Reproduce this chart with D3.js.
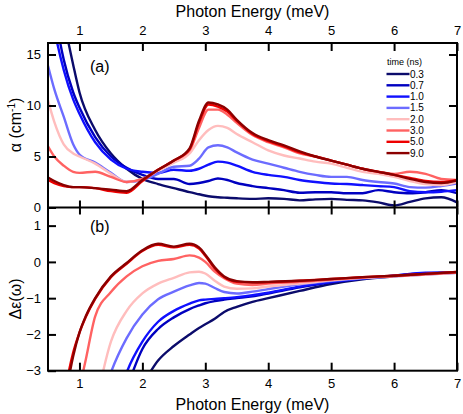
<!DOCTYPE html>
<html>
<head>
<meta charset="utf-8">
<script src="https://d3js.org/d3.v7.min.js"></script>
<style>
  body { margin: 0; background: #fff; }
  svg { font-family: "Liberation Sans", Arial, sans-serif; }
</style>
</head>
<body>
<svg width="463" height="414"></svg>
<script>
// delay times (ns) and line colours
var times = ["0.3", "0.7", "1.0", "1.5", "2.0", "3.0", "5.0", "9.0"];
var colors = ["#0b0b6b", "#0000c0", "#1010ff", "#6c6cff", "#ffbdbd", "#ff6262", "#ee0000", "#8b0000"];

// panel (a): absorption alpha (cm^-1) vs photon energy (meV)
var energyA = [0.5, 0.6, 0.75, 0.9, 1.0, 1.25, 1.5, 1.75, 2.0, 2.25, 2.5, 2.75, 2.9, 3.05, 3.2, 3.35,
  3.5, 3.75, 4.0, 4.25, 4.5, 4.75, 5.0, 5.25, 5.5, 5.75, 6.0, 6.25, 6.5, 6.75, 7.0];
var alpha03 = [30, 24, 18.5, 14, 11.3, 7.6, 5.3, 3.8, 2.8, 2.3, 1.9, 1.5, 1.3, 1.1, 1.0, 0.95,
  0.9, 0.85, 0.9, 0.85, 0.7, 0.8, 0.85, 0.75, 0.7, 0.5, 0.2, 0.55, 0.9, 1.0, 0.5];
var alpha07 = [24, 19.5, 14.5, 11.3, 9.8, 6.9, 5.0, 3.9, 3.2, 2.8, 2.8, 2.3, 2.4, 2.6, 2.85, 2.7,
  2.4, 2.1, 1.9, 1.7, 1.45, 1.5, 1.5, 1.4, 1.4, 1.7, 1.5, 1.4, 1.5, 1.7, 1.4];
var alpha10 = [21, 17.5, 13.5, 10.6, 9.2, 6.4, 4.7, 3.8, 3.5, 3.4, 3.7, 3.6, 3.8, 4.2, 4.5, 4.4,
  4.1, 3.5, 3.2, 3.0, 2.7, 2.5, 2.35, 2.3, 2.2, 2.1, 2.0, 1.6, 1.5, 1.55, 1.7];
var alpha15 = [13.9, 11.6, 8.9, 6.2, 5.2, 4.4, 3.4, 2.5, 2.7, 3.3, 4.0, 4.1, 4.8, 5.9, 6.1, 5.9,
  5.4, 4.7, 4.3, 3.9, 3.5, 3.2, 3.0, 3.0, 2.7, 2.5, 2.35, 2.0, 1.95, 2.1, 2.35];
var alpha20 = [10.5, 8.4, 6.2, 5.3, 5.0, 4.3, 3.3, 2.5, 2.8, 3.6, 4.4, 5.3, 6.6, 7.6, 8.0, 7.8,
  7.2, 6.4, 5.6, 5.1, 4.8, 4.5, 4.3, 3.9, 3.5, 3.3, 3.0, 2.6, 2.3, 2.2, 2.5];
var alpha30 = [6.0, 5.0, 4.1, 3.5, 3.4, 3.5, 3.0, 2.5, 2.8, 3.7, 4.6, 5.6, 7.8, 9.6, 9.6, 9.1,
  8.3, 7.1, 6.4, 5.9, 5.3, 5.0, 4.6, 4.2, 3.8, 3.5, 3.3, 3.5, 3.3, 2.8, 2.7];
var alpha50 = [2.7, 2.4, 2.1, 2.0, 2.0, 1.9, 1.6, 1.45, 2.6, 3.7, 4.6, 5.7, 8.3, 10.1, 9.9, 9.4,
  8.5, 7.2, 6.5, 6.0, 5.4, 5.0, 4.6, 4.2, 3.8, 3.5, 3.2, 2.9, 2.6, 2.5, 2.7];
var alpha90 = [2.95, 2.6, 2.2, 2.0, 2.0, 1.9, 1.75, 1.6, 2.7, 3.7, 4.6, 5.8, 8.5, 10.3, 10.1, 9.6,
  8.6, 7.3, 6.6, 6.1, 5.5, 5.0, 4.6, 4.2, 3.8, 3.5, 3.2, 2.8, 2.5, 2.4, 2.65];

// panel (b): change of dielectric function, null = far below the frame
var energyB = [0.7, 0.8, 0.9, 1.0, 1.1, 1.25, 1.5, 1.75, 2.0, 2.25, 2.5, 2.75, 2.9, 3.0, 3.15, 3.3,
  3.5, 3.75, 4.0, 4.5, 5.0, 5.5, 6.0, 6.5, 7.0];
var deps03 = [null, null, null, null, null, null, null, null, -3.4, -2.72, -2.32, -2.0, -1.82, -1.72, -1.57, -1.38,
  -1.24, -1.1, -1.0, -0.8, -0.61, -0.48, -0.4, -0.32, -0.29];
var deps07 = [null, null, null, null, null, null, null, -3.5, -2.4, -1.85, -1.53, -1.3, -1.2, -1.14, -1.08, -1.04,
  -1.0, -0.95, -0.87, -0.7, -0.56, -0.46, -0.38, -0.31, -0.3];
var deps10 = [null, null, null, null, null, null, -4.5, -3.05, -2.2, -1.65, -1.35, -1.15, -1.06, -1.04, -1.02, -1.0,
  -0.97, -0.92, -0.85, -0.68, -0.55, -0.45, -0.38, -0.3, -0.3];
var deps15 = [null, null, null, null, null, -4.5, -3.05, -2.1, -1.45, -1.03, -0.82, -0.65, -0.58, -0.6, -0.72, -0.83,
  -0.87, -0.82, -0.75, -0.62, -0.52, -0.45, -0.4, -0.35, -0.3];
var deps20 = [null, null, null, null, null, -4.0, -2.2, -1.35, -0.87, -0.6, -0.44, -0.29, -0.27, -0.32, -0.52, -0.68,
  -0.74, -0.73, -0.68, -0.6, -0.51, -0.44, -0.4, -0.35, -0.3];
var deps30 = [null, null, -4.5, -3.5, -2.7, -1.5, -0.83, -0.4, -0.12, 0.03, 0.08, 0.18, 0.12, 0.0, -0.27, -0.45,
  -0.6, -0.64, -0.6, -0.55, -0.49, -0.43, -0.39, -0.34, -0.29];
var deps50 = [-4.4, -3.3, -2.5, -1.95, -1.52, -1.02, -0.42, -0.05, 0.3, 0.47, 0.4, 0.47, 0.37, 0.17, -0.18, -0.42,
  -0.55, -0.57, -0.56, -0.52, -0.47, -0.42, -0.38, -0.33, -0.28];
var deps90 = [-4.6, -3.5, -2.6, -1.95, -1.5, -1.0, -0.4, -0.03, 0.32, 0.5, 0.42, 0.5, 0.4, 0.2, -0.15, -0.4,
  -0.53, -0.56, -0.55, -0.52, -0.47, -0.42, -0.38, -0.33, -0.28];

var xTicks = [1, 2, 3, 4, 5, 6, 7];
var yTicksA = [0, 5, 10, 15];
var yTicksB = [-3, -2, -1, 0, 1];

var alphaSeries = [alpha03, alpha07, alpha10, alpha15, alpha20, alpha30, alpha50, alpha90];
var depsSeries = [deps03, deps07, deps10, deps15, deps20, deps30, deps50, deps90];

var svg = d3.select("svg");
var L = 48, R = 457, T = 43, M = 207.5, B = 370.7;

var x = d3.scaleLinear().domain([0.5, 7]).range([L, R]);
var yA = d3.scaleLinear().domain([0, 16.13]).range([M, T]);
var yB = d3.scaleLinear().domain([-3, 1.5]).range([B, M]);

var defs = svg.append("defs");
defs.append("clipPath").attr("id", "clipA").append("rect")
  .attr("x", L).attr("y", T).attr("width", R - L).attr("height", M - T);
defs.append("clipPath").attr("id", "clipB").append("rect")
  .attr("x", L).attr("y", M).attr("width", R - L).attr("height", B - M);

function drawLines(series, energy, y, clip) {
  var g = svg.append("g").attr("clip-path", "url(#" + clip + ")");
  var line = d3.line()
    .defined(function(d) { return d[1] != null; })
    .x(function(d) { return x(d[0]); })
    .y(function(d) { return y(d[1]); })
    .curve(d3.curveMonotoneX);
  series.forEach(function(vals, i) {
    var pts = energy.map(function(e, j) { return [e, vals[j]]; });
    g.append("path")
      .attr("d", line(pts))
      .attr("fill", "none")
      .attr("stroke", colors[i])
      .attr("stroke-width", 2.4)
      .attr("stroke-linejoin", "round");
  });
}
drawLines(alphaSeries, energyA, yA, "clipA");
drawLines(depsSeries, energyB, yB, "clipB");

function styleAxis(g, size) {
  g.select(".domain").remove();
  g.selectAll(".tick line").attr("stroke", "#000").attr("stroke-width", 2);
  g.selectAll(".tick text").attr("fill", "#000").style("font-size", size + "px");
}

var fmt = d3.format("d");

// x axes: top labels, shared middle border, bottom labels
svg.append("g").attr("transform", "translate(0," + T + ")")
  .call(d3.axisTop(x).tickValues(xTicks).tickFormat(fmt).tickSize(-8).tickPadding(8))
  .call(styleAxis, 13);
svg.append("g").attr("transform", "translate(0," + M + ")")
  .call(d3.axisBottom(x).tickValues(xTicks).tickFormat("").tickSize(7))
  .call(styleAxis, 13);
svg.append("g").attr("transform", "translate(0," + M + ")")
  .call(d3.axisBottom(x).tickValues(xTicks).tickFormat("").tickSize(-7))
  .call(styleAxis, 13);
svg.append("g").attr("transform", "translate(0," + B + ")")
  .call(d3.axisBottom(x).tickValues(xTicks).tickFormat(fmt).tickSize(-8).tickPadding(8))
  .call(styleAxis, 13);

// y axes, ticks inward on both sides
svg.append("g").attr("transform", "translate(" + L + ",0)")
  .call(d3.axisLeft(yA).tickValues(yTicksA).tickFormat(fmt).tickSize(-8).tickPadding(7))
  .call(styleAxis, 13);
svg.append("g").attr("transform", "translate(" + R + ",0)")
  .call(d3.axisRight(yA).tickValues(yTicksA.slice(1)).tickFormat("").tickSize(-8))
  .call(styleAxis, 13);
svg.append("g").attr("transform", "translate(" + L + ",0)")
  .call(d3.axisLeft(yB).tickValues(yTicksB).tickFormat(fmt).tickSize(-8).tickPadding(7))
  .call(styleAxis, 13);
svg.append("g").attr("transform", "translate(" + R + ",0)")
  .call(d3.axisRight(yB).tickValues(yTicksB.slice(1)).tickFormat("").tickSize(-8))
  .call(styleAxis, 13);

// frame
svg.append("rect").attr("x", L).attr("y", T).attr("width", R - L).attr("height", B - T)
  .attr("fill", "none").attr("stroke", "#000").attr("stroke-width", 2);
svg.append("line").attr("x1", L).attr("x2", R).attr("y1", M).attr("y2", M)
  .attr("stroke", "#000").attr("stroke-width", 2);

// titles
svg.append("text").attr("x", (L + R) / 2).attr("y", 17).attr("text-anchor", "middle")
  .style("font-size", "16px").text("Photon Energy (meV)");
svg.append("text").attr("x", (L + R) / 2).attr("y", 409.5).attr("text-anchor", "middle")
  .style("font-size", "16px").text("Photon Energy (meV)");

var ya = svg.append("text").attr("transform", "translate(21,125) rotate(-90)")
  .attr("text-anchor", "middle").style("font-size", "16px");
ya.append("tspan").text("α (cm");
ya.append("tspan").attr("dy", -6).style("font-size", "10px").text("-1");
ya.append("tspan").attr("dy", 6).text(")");

svg.append("text").attr("transform", "translate(21,299) rotate(-90)")
  .attr("text-anchor", "middle").style("font-size", "16px").text("Δε(ω)");

svg.append("text").attr("x", 90).attr("y", 72).style("font-size", "16px").text("(a)");
svg.append("text").attr("x", 90).attr("y", 232).style("font-size", "16px").text("(b)");

// legend
var leg = svg.append("g");
leg.append("text").attr("x", 387).attr("y", 65).style("font-size", "9px").text("time (ns)");
times.forEach(function(t, i) {
  var yy = 74 + i * 11.3;
  leg.append("line").attr("x1", 386.5).attr("x2", 409.5).attr("y1", yy).attr("y2", yy)
    .attr("stroke", colors[i]).attr("stroke-width", 2.4);
  leg.append("text").attr("x", 410).attr("y", yy).attr("dy", "0.35em")
    .style("font-size", "10px").text(t);
});
</script>
</body>
</html>
